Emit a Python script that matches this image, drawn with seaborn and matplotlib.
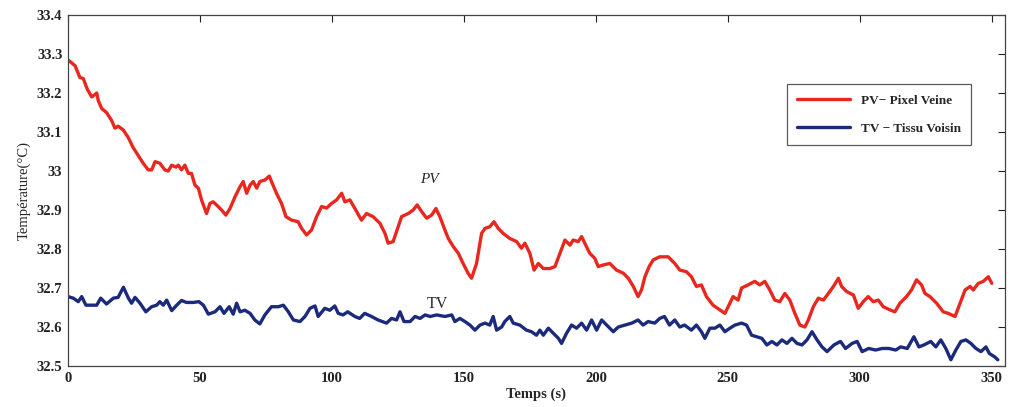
import numpy as np
import pandas as pd
import matplotlib
matplotlib.use('Agg')
import matplotlib.pyplot as plt
import seaborn as sns

# PV - Pixel Veine (time in s, temperature in degC)
pv_t = [0, 2.7, 4.5, 5.8, 7.3, 9, 10.9, 11.5, 12.8, 14.6, 16.5, 17.8, 19, 21, 22.9,
        24.7, 26.6, 28.5, 30.4, 31.7, 33, 34.8, 36.7, 38, 39.3, 40.9, 41.8, 43, 44.3,
        45.6, 46.8, 48.1, 49.4, 50.6, 52.5, 53.8, 55, 56.3, 58.2, 59.8, 61.4, 63.3,
        65.2, 66.4, 67.7, 69, 70.2, 71.5, 72.7, 74.6, 76.3, 77.1, 79, 80.9, 82.6,
        84.7, 87.2, 88.5, 90.4, 92.3, 94.2, 96.1, 98, 99.9, 101.8, 103.7, 104.9,
        106.8, 108.7, 111.2, 113.1, 115.6, 118.2, 120.1, 121.3, 123.2, 125.1, 126.4,
        128.9, 130.8, 132.3, 134, 135.9, 137.8, 139.4, 140.9, 142.8, 144.1, 146,
        147.9, 149.7, 151.6, 152.9, 154.8, 156.7, 158, 159.8, 161.4, 163, 164.9,
        167.4, 170, 171.8, 173.1, 175, 176.6, 178.2, 180.1, 182.6, 184.5, 186.4,
        188.3, 190.2, 191.4, 193.3, 194.6, 195.8, 197.7, 199.6, 200.9, 202.8, 205.3,
        207.8, 210.4, 212.3, 214.2, 216, 217.3, 218.6, 220.2, 221.7, 224.2, 227.4,
        229.9, 231.8, 234.3, 236.2, 238.1, 240, 241.9, 244.4, 247, 248.9, 250.8, 252,
        253.9, 255.2, 257.7, 260.2, 262.1, 264, 265.9, 267.8, 269.7, 271.6, 273.5,
        275.4, 277.3, 279.2, 280.5, 282.4, 284.3, 286.2, 288.1, 290, 291.9, 293.1,
        295, 297.6, 299.4, 301.3, 303.2, 305.1, 307, 308.9, 311.4, 313.3, 315.2,
        317.7, 319.6, 321.5, 323.4, 324.7, 326.6, 329.1, 331.6, 333.5, 336.1, 338,
        339.9, 341.8, 343, 344.9, 346.8, 348.7, 350]
pv_temp = [33.285, 33.27, 33.24, 33.237, 33.21, 33.19, 33.20, 33.18, 33.16, 33.15,
           33.13, 33.11, 33.115, 33.105, 33.085, 33.06, 33.04, 33.02, 33.003, 33.003,
           33.024, 33.02, 33.003, 33.0, 33.015, 33.01, 33.015, 33.003, 33.015, 32.994,
           32.994, 32.964, 32.956, 32.926, 32.891, 32.917, 32.921, 32.913, 32.90,
           32.887, 32.904, 32.934, 32.96, 32.973, 32.943, 32.964, 32.973, 32.956,
           32.973, 32.977, 32.987, 32.973, 32.943, 32.917, 32.883, 32.874, 32.87,
           32.853, 32.836, 32.849, 32.883, 32.909, 32.905, 32.917, 32.926, 32.943,
           32.921, 32.926, 32.904, 32.874, 32.891, 32.883, 32.866, 32.840, 32.815,
           32.819, 32.857, 32.883, 32.891, 32.90, 32.913, 32.896, 32.879, 32.887,
           32.904, 32.883, 32.849, 32.827, 32.806, 32.789, 32.763, 32.738, 32.725,
           32.763, 32.840, 32.853, 32.857, 32.870, 32.853, 32.840, 32.827, 32.819,
           32.802, 32.815, 32.789, 32.746, 32.763, 32.75, 32.75, 32.755, 32.789,
           32.823, 32.81, 32.823, 32.819, 32.832, 32.815, 32.789, 32.776, 32.755,
           32.759, 32.763, 32.746, 32.738, 32.725, 32.704, 32.678, 32.695, 32.729,
           32.755, 32.772, 32.78, 32.78, 32.763, 32.746, 32.742, 32.729, 32.704,
           32.708, 32.678, 32.656, 32.644, 32.635, 32.661, 32.678, 32.669, 32.70,
           32.708, 32.717, 32.708, 32.717, 32.695, 32.669, 32.665, 32.686, 32.669,
           32.635, 32.605, 32.60, 32.618, 32.652, 32.674, 32.669, 32.686, 32.704,
           32.725, 32.704, 32.691, 32.682, 32.648, 32.665, 32.678, 32.665, 32.669,
           32.652, 32.644, 32.639, 32.661, 32.678, 32.695, 32.721, 32.708, 32.686,
           32.678, 32.661, 32.639, 32.635, 32.627, 32.661, 32.695, 32.704, 32.695,
           32.712, 32.717, 32.729, 32.712]

# TV - Tissu Voisin
tv_t = [0, 2, 3.9, 5.2, 6.8, 9, 10.9, 12.4, 14.6, 17.2, 19, 21, 22.9, 24.1, 25.4,
        27.3, 29.5, 31.7, 33.6, 34.8, 36.1, 37.4, 39.3, 41.2, 43, 44.9, 47.5, 49.6,
        51.3, 53.2, 55.7, 57.6, 59.1, 61.1, 62.6, 63.9, 65.2, 67, 69, 70.8, 72.7,
        74.6, 77.1, 79.7, 81.6, 83.5, 85.4, 87.9, 89.8, 91.7, 93.6, 94.8, 97.3, 99.2,
        101.1, 102.4, 104.2, 106, 108.7, 110.5, 112.4, 115, 117.5, 120.7, 122.6,
        124.5, 125.8, 127.3, 129.6, 131.5, 133.4, 135.3, 137.2, 139.7, 142.8, 145.4,
        146.6, 148.5, 150.4, 152.3, 154.2, 156.1, 158, 159.8, 161.1, 162.4, 164.3,
        165.5, 167.4, 168.7, 171.2, 173.7, 175.6, 177.5, 178.8, 180.1, 182, 183.9,
        185.8, 187, 188.9, 190.8, 192.7, 194.6, 196.5, 198.4, 200.3, 202.2, 204.1,
        206.6, 208.5, 211, 213.6, 216, 217.9, 219.8, 222.3, 224.2, 226, 227.9, 229.9,
        231.8, 233.6, 236.2, 238.1, 240, 241.3, 243.2, 245.1, 247, 248.9, 250.8,
        252.7, 255.2, 257.1, 259, 260.9, 262.9, 264.8, 266.7, 268.6, 270.5, 272.4,
        274.3, 276.2, 278.1, 280, 281.9, 283.8, 285.7, 287.6, 290.2, 292.7, 294.6,
        297.1, 299, 300.9, 303.4, 306, 308.5, 311, 313.6, 315.5, 318, 320.5, 322.4,
        324.3, 326.9, 328.8, 330.7, 332.6, 334.5, 336.4, 338.3, 340.2, 342.1, 344,
        345.9, 347.8, 349.1, 351, 352.3]
tv_temp = [32.678, 32.674, 32.665, 32.678, 32.656, 32.656, 32.656, 32.674, 32.659,
           32.674, 32.676, 32.702, 32.674, 32.661, 32.676, 32.661, 32.639, 32.652,
           32.656, 32.665, 32.656, 32.669, 32.642, 32.656, 32.668, 32.663, 32.663,
           32.665, 32.656, 32.633, 32.639, 32.652, 32.635, 32.652, 32.633, 32.661,
           32.639, 32.643, 32.635, 32.618, 32.608, 32.631, 32.652, 32.652, 32.656,
           32.639, 32.618, 32.614, 32.627, 32.648, 32.654, 32.627, 32.648, 32.643,
           32.654, 32.635, 32.631, 32.639, 32.627, 32.622, 32.635, 32.627, 32.618,
           32.61, 32.622, 32.618, 32.639, 32.614, 32.614, 32.627, 32.622, 32.631,
           32.627, 32.631, 32.627, 32.631, 32.614, 32.622, 32.614, 32.605, 32.592,
           32.605, 32.61, 32.605, 32.627, 32.592, 32.60, 32.614, 32.627, 32.61,
           32.605, 32.592, 32.588, 32.579, 32.592, 32.579, 32.597, 32.584, 32.571,
           32.558, 32.584, 32.605, 32.597, 32.61, 32.592, 32.618, 32.592, 32.618,
           32.605, 32.588, 32.60, 32.605, 32.61, 32.618, 32.605, 32.614, 32.61,
           32.622, 32.627, 32.605, 32.618, 32.60, 32.605, 32.592, 32.605, 32.588,
           32.571, 32.597, 32.597, 32.605, 32.588, 32.597, 32.605, 32.61, 32.605,
           32.579, 32.575, 32.571, 32.554, 32.563, 32.554, 32.567, 32.558, 32.571,
           32.558, 32.554, 32.567, 32.588, 32.567, 32.549, 32.537, 32.554, 32.563,
           32.545, 32.558, 32.563, 32.537, 32.545, 32.541, 32.545, 32.545, 32.541,
           32.549, 32.545, 32.575, 32.549, 32.554, 32.563, 32.549, 32.567, 32.545,
           32.516, 32.541, 32.563, 32.567, 32.558, 32.545, 32.537, 32.549, 32.532,
           32.524, 32.516]

x_ticks = [0, 50, 100, 150, 200, 250, 300, 350]
y_ticks = [32.5, 32.6, 32.7, 32.8, 32.9, 33.0, 33.1, 33.2, 33.3, 33.4]
y_ticklabels = ['32.5', '32.6', '32.7', '32.8', '32.9', '33', '33.1', '33.2', '33.3', '33.4']

RED = '#e8271f'
NAVY = '#1c2a7c'

sns.set_style('white')
plt.rcParams['font.family'] = ['Liberation Serif', 'DejaVu Serif']

pv = pd.DataFrame({'t': pv_t, 'temp': pv_temp})
tv = pd.DataFrame({'t': tv_t, 'temp': tv_temp})

fig = plt.figure(figsize=(10.1, 4.07), dpi=100)
ax = fig.add_axes([0.0673, 0.1007, 0.9277, 0.8624])

sns.lineplot(data=pv, x='t', y='temp', ax=ax, color=RED, lw=2.4,
             sort=False, estimator=None, label='PV\u2212 Pixel Veine')
sns.lineplot(data=tv, x='t', y='temp', ax=ax, color=NAVY, lw=2.4,
             sort=False, estimator=None, label='TV \u2212 Tissu Voisin')

ax.set_xlim(0, 355)
ax.set_ylim(32.5, 33.4)
ax.set_xticks(x_ticks)
ax.set_yticks(y_ticks)
ax.set_yticklabels(y_ticklabels)
ax.tick_params(direction='in', top=True, right=True, length=5, width=0.8,
               labelsize=10.5, colors='#222222', pad=4)
for lab in ax.get_xticklabels() + ax.get_yticklabels():
    lab.set_fontweight('bold')
for sp in ax.spines.values():
    sp.set_color('#444444')
    sp.set_linewidth(0.9)

ax.set_xlabel('Temps (s)', fontsize=10.5, fontweight='bold', labelpad=2)
ax.set_ylabel('Température(°C)', fontsize=10.5, labelpad=4)

ax.text(137, 32.977, 'PV', fontsize=11, style='italic', ha='center', va='center')
ax.text(140, 32.66, 'TV', fontsize=11.5, ha='center', va='center')

leg = ax.legend(loc='upper right', bbox_to_anchor=(0.971, 0.823), fontsize=9.5,
                frameon=True, fancybox=False, edgecolor='#333333',
                handlelength=4, labelspacing=1.2, borderpad=0.8)
leg.get_frame().set_linewidth(0.9)
for t in leg.get_texts():
    t.set_fontweight('bold')

fig.savefig('out.png', dpi=100)
